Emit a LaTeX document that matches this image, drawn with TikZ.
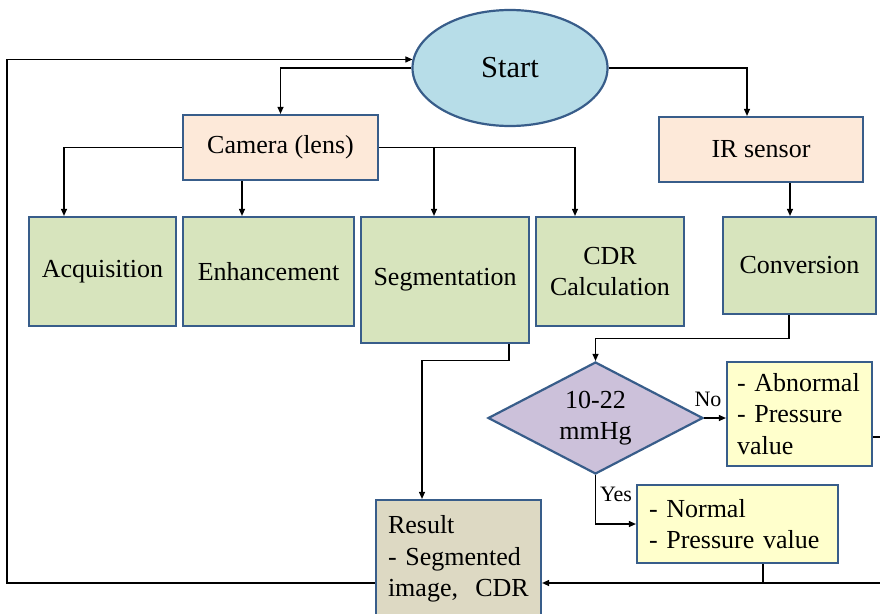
\documentclass[tikz,border=0pt]{standalone}
\usepackage{fontspec}
\setmainfont{Liberation Serif}
\usetikzlibrary{shapes.geometric,arrows.meta,calc}
\definecolor{bordc}{HTML}{385D8A}
\definecolor{startcol}{HTML}{B7DDE8}
\definecolor{peach}{HTML}{FDE9D9}
\definecolor{greenc}{HTML}{D7E4BD}
\definecolor{diacol}{HTML}{CCC1DA}
\definecolor{yellowc}{HTML}{FFFFCC}
\definecolor{rescol}{HTML}{DDD9C3}
\begin{document}
\begin{tikzpicture}[x=1pt,y=-1pt,
  box/.style={draw=bordc,line width=2.2pt,rectangle,inner sep=0pt,align=center,font=\fontsize{26}{31.5}\selectfont},
  conn/.style={draw=black,line width=1.1pt,-{Triangle[length=7pt,width=6pt]}},
  plain/.style={draw=black,line width=1.1pt},
  lbl/.style={font=\fontsize{22}{26}\selectfont,inner sep=0pt}]
\useasboundingbox (0,0) rectangle (880,613);
\clip (0,0) rectangle (880,613);
\fill[white] (0,0) rectangle (880,613);

% nodes
\node[draw=bordc,line width=2.2pt,ellipse,fill=startcol,minimum width=195pt,minimum height=116pt,inner sep=0pt,font=\fontsize{30.5}{36}\selectfont] (start) at (510,68) {Start};
\node[box,fill=peach,minimum width=195pt,minimum height=65pt] (cam) at (280.5,147.5) {Camera (lens)};
\node[box,fill=peach,minimum width=204pt,minimum height=65pt] (ir) at (761,149.5) {IR sensor};
\node[box,fill=greenc,minimum width=147pt,minimum height=109pt] (acq) at (102.5,271.5) {Acquisition};
\node[box,fill=greenc,minimum width=171pt,minimum height=109pt] (enh) at (268.5,271.5) {Enhancement};
\node[box,fill=greenc,minimum width=168pt,minimum height=126pt] (seg) at (445,280) {Segmentation};
\node[box,fill=greenc,minimum width=148pt,minimum height=109pt] (cdr) at (610,271.5) {CDR\\Calculation};
\node[box,fill=greenc,minimum width=153pt,minimum height=97pt] (conv) at (799.5,265.5) {Conversion};
\node[draw=bordc,line width=2.2pt,diamond,fill=diacol,minimum width=215pt,minimum height=112pt,inner sep=0pt,shape aspect=2,align=center,font=\fontsize{26}{31.5}\selectfont] (dia) at (595.5,418) {10-22\\mmHg};
\node[box,fill=yellowc,align=left,text width=125pt,inner xsep=10pt,minimum height=104pt] (abn) at (799.5,414) {- Abnormal\\- Pressure\\value};
\node[box,fill=yellowc,align=left,text width=177pt,inner xsep=12pt,minimum height=78pt] (norm) at (737.5,524) {- Normal\\- Pressure value};
\node[box,fill=rescol,align=left,text width=141pt,inner xsep=12pt,minimum height=118pt] (res) at (458.5,559) {Result\\- Segmented\\image,\ \ CDR};

\node[lbl] (nolab) at (708,399) {No};
\node[lbl] (yeslab) at (616,494) {Yes};

% coordinates
\coordinate (L1) at (7,583);
\coordinate (L2) at (7,60);
\coordinate (R1) at (895,437);
\coordinate (R2) at (895,583);

% connectors
\draw[conn] ([yshift=-24pt]res.west) -- (L1) -- (L2 |- start.175) -- (start.175);
\draw[conn] (start.west) -| (cam.north);
\draw[conn] (cam.west) -| ([xshift=-38.5pt]acq.north);
\draw[conn] ([xshift=-38.5pt]cam.south) -- ([xshift=-26.5pt]enh.north);
\draw[conn] (cam.east) -| ([xshift=-11pt]seg.north);
\draw[conn] (cam.east) -| ([xshift=-35pt]cdr.north);
\draw[conn] (start.east) -| ([xshift=-14pt]ir.north);
\draw[conn] ([xshift=29pt]ir.south) -- ([xshift=-9.5pt]conv.north);
\draw[conn] ([xshift=64pt]seg.south) -- ++(0,16) -| ([xshift=-36.5pt]res.north);
\draw[conn] ([xshift=-10.5pt]conv.south) -- ++(0,23.5) -| (dia.north);
\draw[conn] (dia.east) -- (dia.east -| abn.west);
\draw[conn] (dia.south) |- (norm.west);
\draw[conn] ([yshift=-23pt]abn.east) -- (R1) -- (R2) -- ([yshift=-24pt]res.east);
\draw[plain] ([xshift=25.5pt]norm.south) -- ([xshift=25.5pt]norm.south |- R2);
\end{tikzpicture}
\end{document}
